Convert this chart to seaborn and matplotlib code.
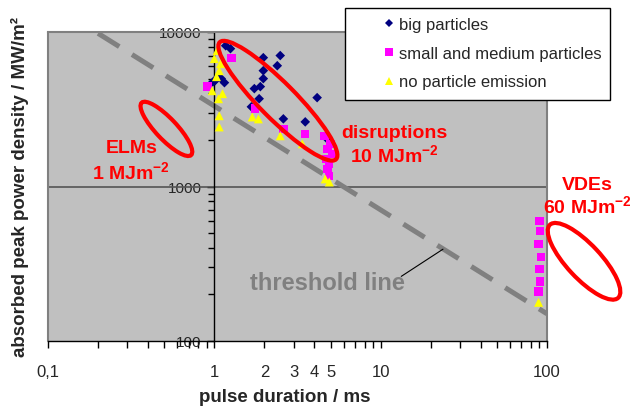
import numpy as np
import pandas as pd
import matplotlib
matplotlib.use("Agg")
import matplotlib.pyplot as plt
import matplotlib.transforms as mtransforms
from matplotlib.patches import Ellipse, Rectangle
from matplotlib.lines import Line2D
from matplotlib.ticker import NullFormatter
import seaborn as sns

# valores: duração do pulso (ms) e densidade de potência (MW/m²)
big_t = [1.17, 1.25, 1.10, 1.01, 1.15, 1.05, 0.98,
         1.97, 2.49, 2.39, 1.97, 1.97, 1.89, 1.74, 1.86, 1.67,
         4.15, 2.60, 3.52, 4.77, 5.04]
big_p = [8150, 7800, 4990, 4840, 4700, 5100, 4750,
         6820, 7040, 6050, 5620, 4990, 4430, 4300, 3700, 3280,
         3760, 2740, 2620, 2030, 1890]

small_t = [0.91, 1.27, 1.76, 2.60, 3.52,
           4.6, 5.0, 4.8, 5.1, 4.7, 4.9, 4.8, 4.9,
           90, 91, 89, 92, 90, 91, 89]
small_p = [4430, 6820, 3190, 2360, 2190,
           2130, 1890, 1750, 1630, 1510, 1400, 1300, 1170,
           597, 514, 423, 349, 291, 243, 209]

none_t = [1.04, 1.00, 1.09, 1.07, 1.03, 0.97, 1.12, 1.06, 1.07, 1.07,
          1.69, 1.84, 2.49, 3.38, 4.64, 4.91,
          89]
none_p = [7590, 6730, 6240, 5620, 5140, 4170, 3990, 3700, 2870, 2430,
          2820, 2740, 2130, 1890, 1120, 1070,
          178]

# linha de limiar (extremos)
thr_t = [0.2, 100]
thr_p = [9800, 150]

series_names = ["big particles", "small and medium particles", "no particle emission"]
series_colors = ["#000080", "#FF00FF", "#FFFF00"]
series_markers = ["D", "s", "^"]
series_sizes = [24, 36, 42]

x_major = [0.1, 1, 2, 3, 4, 5, 10, 100]
x_major_labels = ["0,1", "1", "2", "3", "4", "5", "10", "100"]
y_major = [100, 1000, 10000]
y_major_labels = ["100", "1000", "10000"]

# monta o dataframe
df = pd.concat([
    pd.DataFrame({"duracao": big_t, "densidade": big_p, "tipo": series_names[0]}),
    pd.DataFrame({"duracao": small_t, "densidade": small_p, "tipo": series_names[1]}),
    pd.DataFrame({"duracao": none_t, "densidade": none_p, "tipo": series_names[2]}),
], ignore_index=True)

sns.set_style("ticks")
plt.rcParams["font.family"] = ["Liberation Sans", "DejaVu Sans"]
plt.rcParams["mathtext.fontset"] = "custom"
plt.rcParams["mathtext.rm"] = "Liberation Sans"
plt.rcParams["mathtext.bf"] = "Liberation Sans:bold"

fig = plt.figure(figsize=(6.31, 4.10), dpi=100)
ax = fig.add_axes([48 / 631, 68 / 410, 499 / 631, 309 / 410])
ax.set_facecolor("#C0C0C0")

# linha de grade em 1000 e linha de limiar
ax.axhline(1000, color="#555555", lw=1.2, zorder=1)
ax.plot(thr_t, thr_p, color="#808080", lw=3.6, ls=(0, (5, 3)), zorder=2,
        solid_capstyle="butt", dash_capstyle="butt")

sns.scatterplot(data=df, x="duracao", y="densidade", hue="tipo", style="tipo", size="tipo",
                palette=dict(zip(series_names, series_colors)),
                markers=dict(zip(series_names, series_markers)),
                sizes=dict(zip(series_names, series_sizes)),
                linewidth=0, legend=False, ax=ax, zorder=3)

ax.set_xscale("log")
ax.set_yscale("log")
ax.set_xlim(0.1, 100)
ax.set_ylim(100, 10000)

# ticks
ax.set_xticks(x_major, x_major_labels)
x_minor = [m * d for d in [0.1, 1, 10] for m in range(2, 10) if m * d not in x_major]
ax.set_xticks(x_minor, minor=True)
ax.xaxis.set_minor_formatter(NullFormatter())
ax.set_yticks(y_major, y_major_labels)
y_minor = [m * d for d in [100, 1000] for m in range(2, 10)]
ax.set_yticks(y_minor, minor=True)
ax.yaxis.set_minor_formatter(NullFormatter())
ax.tick_params(axis="x", which="both", direction="out", length=5, width=1,
               color="black", pad=11.5, labelsize=12, bottom=True)
ax.tick_params(axis="y", which="major", direction="out", length=5, width=1,
               color="black", pad=4, labelsize=11, left=True)
ax.tick_params(axis="y", which="minor", direction="out", length=4, width=1,
               color="black", left=True)

# eixos: eixo y cruza em x=1
ax.spines["left"].set_position(("data", 1))
ax.spines["left"].set_color("black")
ax.spines["left"].set_linewidth(1)
ax.spines["bottom"].set_color("black")
ax.spines["bottom"].set_linewidth(1)
for s in ["top", "right"]:
    ax.spines[s].set_color("#808080")
    ax.spines[s].set_linewidth(1.5)
ax.axvline(0.1, color="#808080", lw=1.5, clip_on=False, zorder=1)

ax.set_xlabel("pulse duration / ms", fontsize=13.5, fontweight="bold")
ax.set_ylabel("absorbed peak power density / MW/m²", fontsize=13.5, fontweight="bold")
ax.xaxis.set_label_coords(0.475, -0.178)
ax.xaxis.label.set_va("center")
ax.yaxis.set_label_coords(-0.056, 0.502)
ax.yaxis.label.set_va("center")


# elipses vermelhas (tamanho em pixels, centro em dados)
def red_ellipse(x, y, w_px, h_px, ang):
    trans = fig.dpi_scale_trans + mtransforms.ScaledTranslation(x, y, ax.transData)
    ax.add_patch(Ellipse((0, 0), w_px / 100, h_px / 100, angle=ang, transform=trans,
                         fill=False, ec="red", lw=3, clip_on=False, zorder=5))


red_ellipse(0.515, 2360, 72, 21, -46.6)
red_ellipse(2.41, 3590, 165, 36, -45.2)
red_ellipse(167, 328, 100, 34, -47)

red_kw = dict(color="red", fontsize=14, fontweight="bold", ha="center", va="center",
              clip_on=False, zorder=6)
ax.text(0.317, 1778, "ELMs", **red_kw)
ax.text(0.317, 1241, r"1 MJm$^{\mathbf{-2}}$", **red_kw)
ax.text(12.05, 2223, "disruptions", **red_kw)
ax.text(12.05, 1603, r"10 MJm$^{\mathbf{-2}}$", **red_kw)
ax.text(175, 1023, "VDEs", **red_kw)
ax.text(175, 747, r"60 MJm$^{\mathbf{-2}}$", **red_kw)

# texto da linha de limiar
ax.text(4.77, 240, "threshold line", color="#808080", fontsize=17, fontweight="bold",
        ha="center", va="center", zorder=4)
ax.plot([13.3, 23.7], [262, 393], color="black", lw=0.8, zorder=4)

# legenda com caixa branca
fig.add_artist(Rectangle((345 / 631, 1 - 101 / 410), 265 / 631, 92 / 410,
                         transform=fig.transFigure, fc="white", ec="black", lw=1, zorder=4))
handles = [Line2D([], [], ls="none", marker="D", color=series_colors[0], markersize=4, markeredgewidth=0),
           Line2D([], [], ls="none", marker="s", color=series_colors[1], markersize=6, markeredgewidth=0),
           Line2D([], [], ls="none", marker="^", color=series_colors[2], markersize=6, markeredgewidth=0)]
fig.legend(handles, series_names, loc="upper left", bbox_to_anchor=(382 / 631, 1 - 18 / 410),
           frameon=False, fontsize=12, handlelength=0.8, handletextpad=0.2,
           labelspacing=0.82, borderpad=0, borderaxespad=0)

fig.savefig("out.png", dpi=100)
